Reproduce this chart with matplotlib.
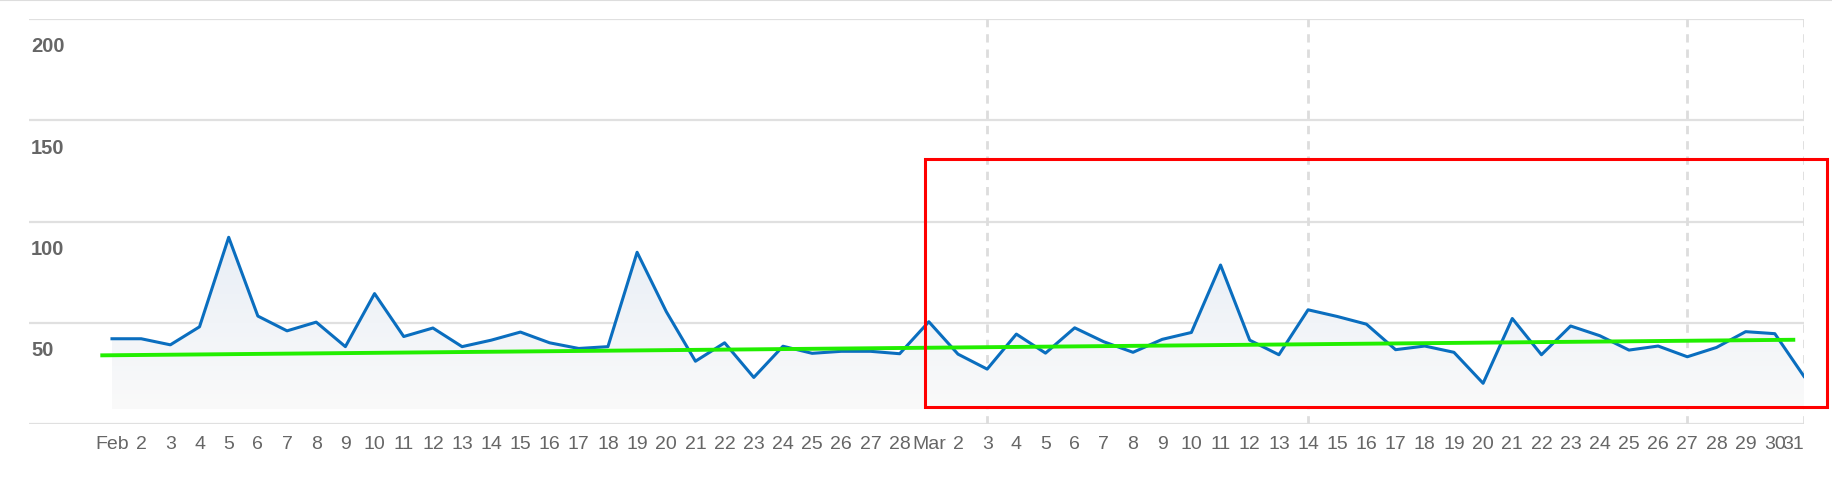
import matplotlib

matplotlib.use("Agg")
import matplotlib.pyplot as plt
import numpy as np
from matplotlib.colors import LinearSegmentedColormap
from matplotlib.lines import Line2D
from matplotlib.patches import Rectangle
from matplotlib.transforms import blended_transform_factory, offset_copy

plt.rcParams["font.family"] = ["Liberation Sans", "DejaVu Sans"]

# daily values
FEB_VALUES = [
    42.1, 42.1, 39.1, 48.0, 92.2, 53.3, 46.0, 50.3, 38.2, 64.4,
    43.2, 47.4, 38.2, 41.4, 45.4, 40.1, 37.3, 38.2, 84.8, 55.5,
    31.0, 40.1, 23.0, 38.4, 34.9, 35.9, 35.9, 34.7,
]
MAR_VALUES = [
    50.5, 34.5, 27.1, 44.4, 35.0, 47.5, 40.6, 35.4, 41.8, 45.2,
    78.5, 41.4, 34.2, 56.4, 53.1, 49.3, 36.7, 38.5, 35.4, 20.1,
    52.1, 34.2, 48.4, 43.6, 36.5, 38.5, 33.2, 37.8, 45.6, 44.6,
    23.5,
]
DAYS = [f"Feb {d}" for d in range(1, 29)] + [f"Mar {d}" for d in range(1, 32)]
TICK_LABELS = ["Feb"] + [str(d) for d in range(2, 29)] + ["Mar"] + [str(d) for d in range(2, 32)]
Y_TICKS = [50, 100, 150, 200]
MARKED_DAYS = ["Mar 3", "Mar 14", "Mar 27", "Mar 31"]
FILL_BASE = 7.4

# trend line (start/end in day-index units) and highlighted region
TREND_X = [-0.4, 57.7]
TREND_Y = [33.9, 41.6]
HIGHLIGHT_X = [27.87, 58.79]
HIGHLIGHT_Y = [8.2, 130.9]

W, H = 1833, 489


def main() -> None:
    values = FEB_VALUES + MAR_VALUES
    x = np.arange(len(values))

    fig = plt.figure(figsize=(W / 100, H / 100), dpi=100)
    ax = fig.add_axes([29 / W, 64 / H, (1804 - 29) / W, (425 - 20) / H])
    for spine in ax.spines.values():
        spine.set_visible(False)

    for v in [0] + Y_TICKS:
        ax.axhline(v, color="#e0e0e0", lw=1.6, zorder=0)
    for day in MARKED_DAYS:
        ax.axvline(DAYS.index(day), color="#dddddd", lw=2.0, ls=(0, (3, 2.5)), zorder=0.5)

    # gradient area under the line
    area = ax.fill_between(x, values, FILL_BASE, color="none", lw=0)
    cmap = LinearSegmentedColormap.from_list("area", ["#fafafa", "#e8eef6"])
    im = ax.imshow(
        np.linspace(0, 1, 256).reshape(-1, 1),
        extent=[x[0], x[-1], FILL_BASE, max(values)],
        origin="lower",
        aspect="auto",
        cmap=cmap,
        zorder=1,
    )
    im.set_clip_path(area.get_paths()[0], transform=ax.transData)

    ax.plot(x, values, color="#0a6ebf", lw=2.2, zorder=3)
    ax.plot(TREND_X, TREND_Y, color="#22ee00", lw=2.8, solid_capstyle="butt", zorder=4)

    ax.add_patch(
        Rectangle(
            (HIGHLIGHT_X[0], HIGHLIGHT_Y[0]),
            HIGHLIGHT_X[1] - HIGHLIGHT_X[0],
            HIGHLIGHT_Y[1] - HIGHLIGHT_Y[0],
            fill=False,
            ec="#ff0000",
            lw=2.2,
            clip_on=False,
            zorder=5,
        )
    )

    ax.set_xlim(-2.845, 58)
    ax.set_ylim(0, 200)

    ax.set_yticks([])
    ax.set_xticks(x, TICK_LABELS)
    ax.tick_params(axis="x", length=0, pad=8, labelsize=14, labelcolor="#666666")
    ax.get_xticklabels()[-1].set_ha("right")

    base = blended_transform_factory(ax.transAxes, ax.transData)
    label_tr = offset_copy(base, fig=fig, x=2, y=-27, units="dots")
    for v in Y_TICKS:
        ax.text(0, v, str(v), transform=label_tr, ha="left", va="center",
                fontsize=14.5, fontweight="bold", color="#666666")

    fig.add_artist(Line2D([0, 1], [1 - 1 / H, 1 - 1 / H], color="#dddddd", lw=1.5))

    fig.savefig("out.png", dpi=100)
    plt.close(fig)


if __name__ == "__main__":
    main()
